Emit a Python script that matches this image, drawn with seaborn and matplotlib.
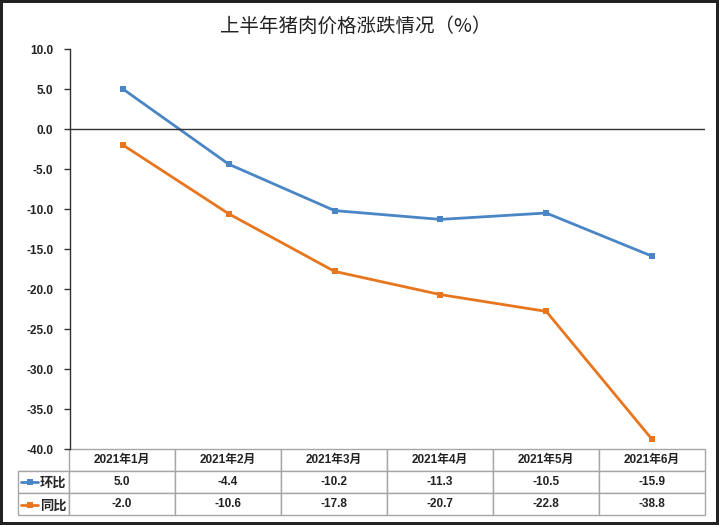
import matplotlib
matplotlib.use('Agg')
import matplotlib.pyplot as plt
import seaborn as sns
import pandas as pd

months = ['2021年1月', '2021年2月', '2021年3月', '2021年4月', '2021年5月', '2021年6月']
mom = [5.0, -4.4, -10.2, -11.3, -10.5, -15.9]   # 环比
yoy = [-2.0, -10.6, -17.8, -20.7, -22.8, -38.8]  # 同比
series = ['环比', '同比']
colors = {'环比': '#4A86C5', '同比': '#E8761E'}
yticks = [10, 5, 0, -5, -10, -15, -20, -25, -30, -35, -40]

df = pd.DataFrame({'month': months * 2,
                   'value': mom + yoy,
                   'series': ['环比'] * 6 + ['同比'] * 6})

sns.set_style('white')
plt.rcParams['font.family'] = ['Liberation Sans', 'Noto Sans CJK SC', 'DejaVu Sans']

fig = plt.figure(figsize=(7.19, 5.25), dpi=100)
fig.patch.set_edgecolor('#222222')
fig.patch.set_linewidth(3)
ax = fig.add_axes([70 / 719, 1 - 449 / 525, 635 / 719, 400 / 525])

sns.lineplot(data=df, x='month', y='value', hue='series', palette=colors,
             marker='s', markersize=5, markeredgewidth=0, linewidth=2,
             ax=ax, legend=False, sort=False)

ax.axhline(0, color='#333333', linewidth=1)
ax.set_xlim(-0.5, 5.5)
ax.set_ylim(-40, 10)
ax.set_yticks(yticks)
ax.set_yticklabels([f'{v:.1f}' for v in yticks], fontsize=8.5, fontweight='bold', color='#222222')
ax.tick_params(axis='y', direction='out', length=4, width=1, color='#333333', pad=8, left=True)
ax.tick_params(axis='x', bottom=False, labelbottom=False)
ax.set_xlabel('')
ax.set_ylabel('')
for s in ['top', 'right', 'bottom']:
    ax.spines[s].set_visible(False)
ax.spines['left'].set_color('#333333')
ax.spines['left'].set_linewidth(1)

# data table below the plot
cell_text = [[''] + [f'{v:.1f}' for v in mom],
             [''] + [f'{v:.1f}' for v in yoy]]
col_w = [51 / 687] + [106 / 687] * 6
tbl = ax.table(cellText=cell_text, colLabels=[''] + months, colWidths=col_w,
               cellLoc='center', bbox=[-52 / 635, -66 / 400, 687 / 635, 66 / 400])
tbl.auto_set_font_size(False)
for (r, c), cell in tbl.get_celld().items():
    cell.set_edgecolor('#A6A6A6')
    cell.set_linewidth(1)
    cell.get_text().set_fontsize(8.5)
    cell.get_text().set_fontweight('bold')
    cell.get_text().set_color('#222222')
    if r == 0 and c == 0:
        cell.visible_edges = 'B'

# legend keys inside the row-label column
handles = [plt.Line2D([], [], color=colors[s], marker='s', markersize=4,
                      markeredgewidth=0, linewidth=2) for s in series]
leg = ax.legend(handles, series, loc='upper left', bbox_to_anchor=(-49 / 635, -27 / 400),
                frameon=False, handlelength=1.3, handletextpad=0.15, borderpad=0,
                borderaxespad=0, labelspacing=0.68,
                prop={'size': 9.5, 'weight': 'bold', 'family': ['Noto Sans CJK SC', 'DejaVu Sans']})

fig.suptitle('上半年猪肉价格涨跌情况（%）', x=0.495, y=0.97, fontsize=14,
             color='#222222', family=['Noto Sans CJK SC', 'DejaVu Sans'])

fig.savefig('out.png', dpi=100)
